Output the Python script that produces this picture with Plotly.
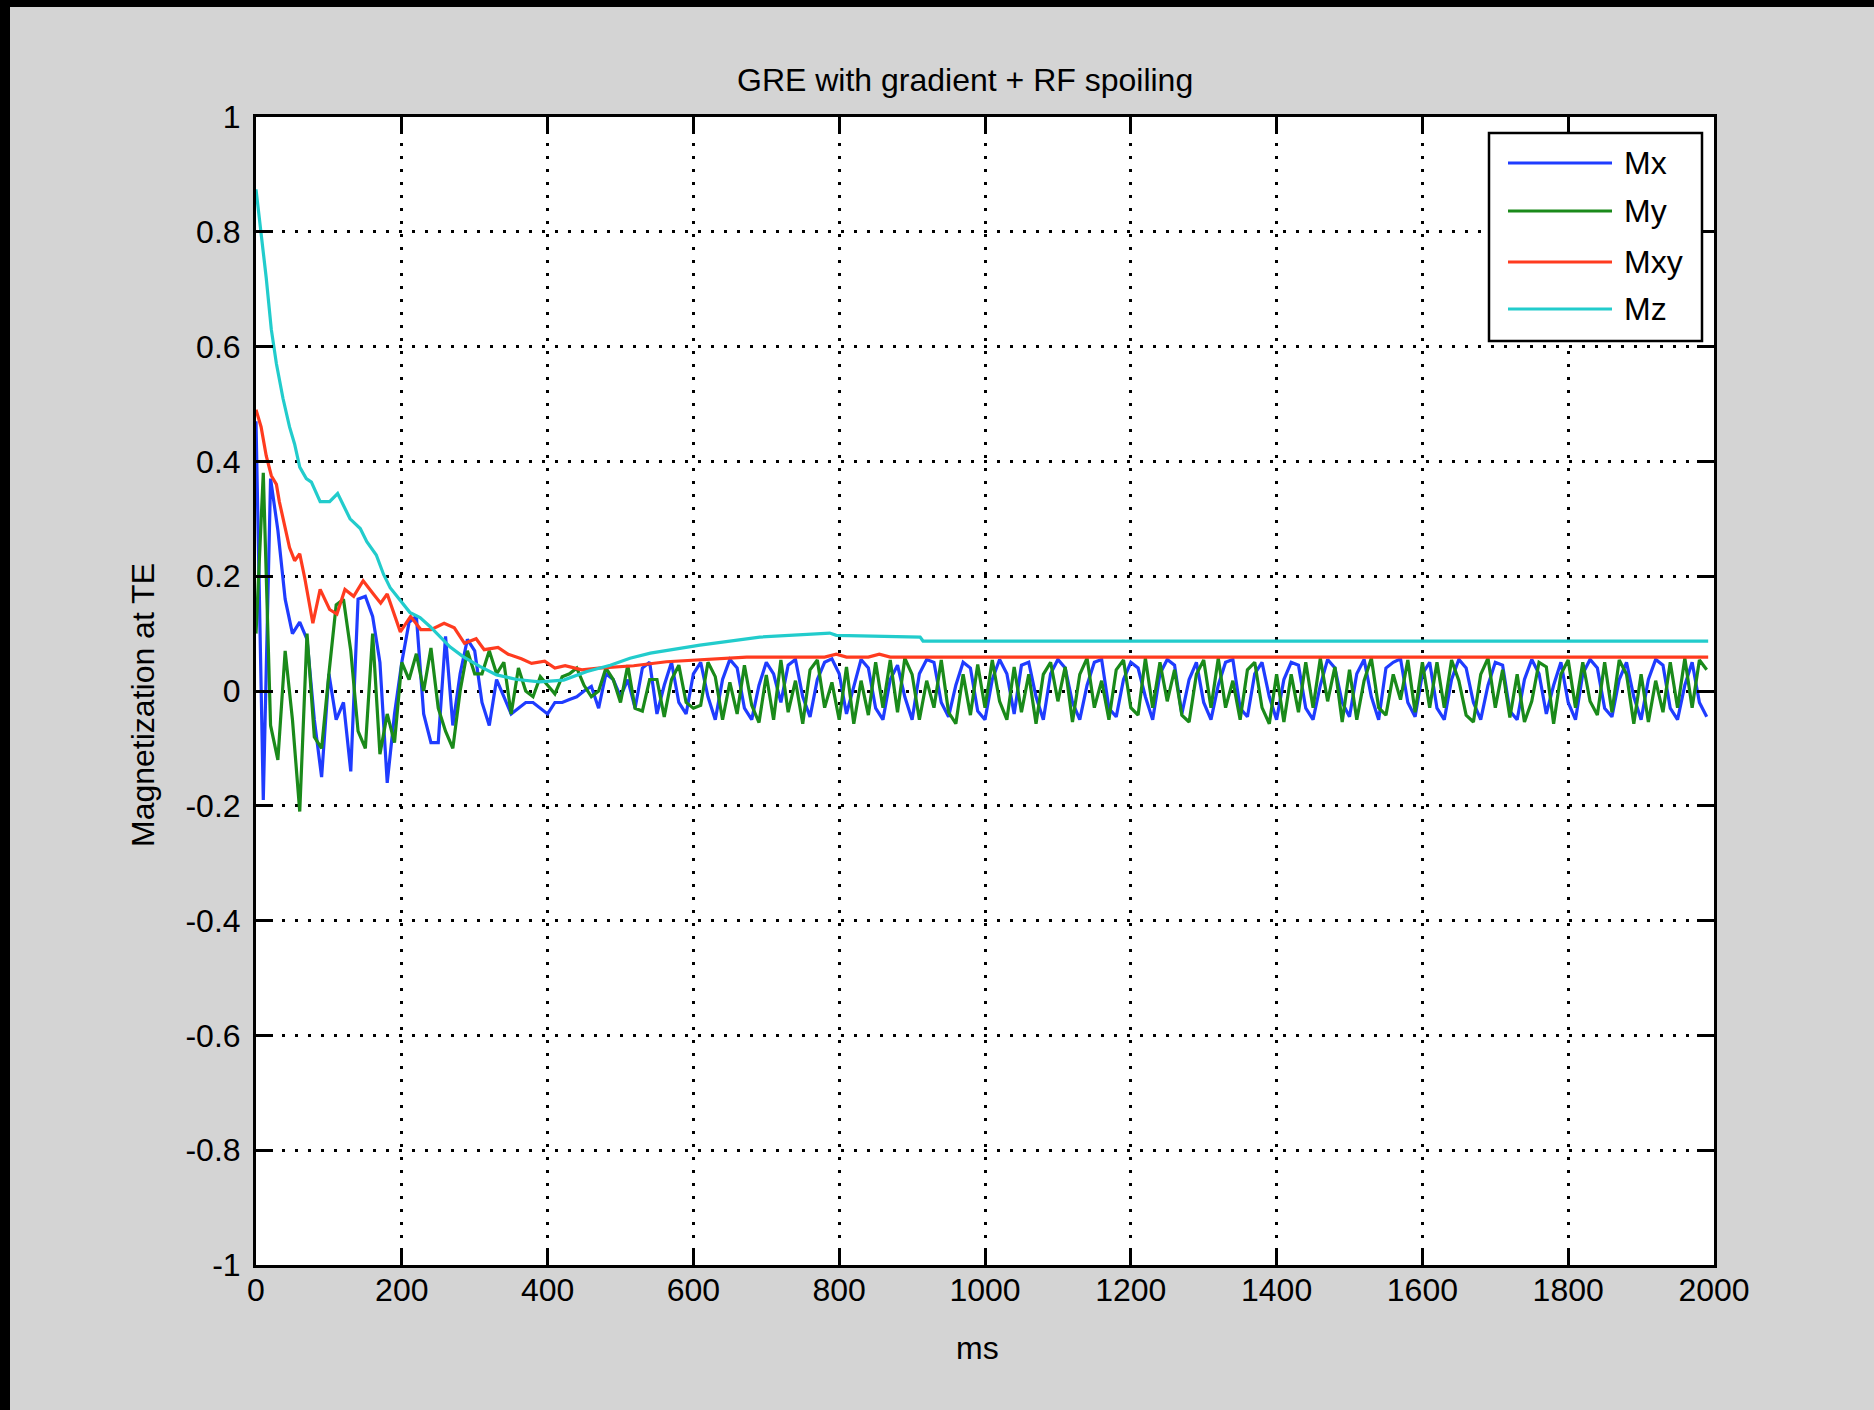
import plotly.graph_objects as go

# ---- data ----
t_ms = list(range(0, 1991, 10))  # sample times for Mx / My

mx = [
    0.47, -0.19, 0.37, 0.28, 0.16, 0.10, 0.12, 0.09, -0.05, -0.15,   # 0-90 ms
    0.03, -0.05, -0.02, -0.14, 0.16, 0.165, 0.13, 0.05, -0.16, -0.04,  # 100-190
    0.05, 0.12, 0.13, -0.04, -0.09, -0.09, 0.095, -0.06, 0.03, 0.09,  # 200-290
    0.07, -0.02, -0.06, 0.02, -0.01, -0.04, -0.03, -0.02, -0.02, -0.03,  # 300-390
    -0.04, -0.02, -0.02, -0.015, -0.01, 0.0, 0.008, -0.03, 0.03, 0.02,  # 400-490
    -0.01,  # 500
    0.02, -0.03, 0.04, 0.05, -0.04, 0.01, 0.05, -0.02, -0.04, 0.03,  # 510-600
    0.05, -0.01, -0.05, 0.02, 0.055, 0.04, -0.03, -0.05, 0.01, 0.05,
    0.03, -0.02, 0.045, 0.055, -0.01, -0.045, 0.02, 0.05, 0.056, 0.03,
    -0.04, 0.01, 0.055, 0.04, -0.03, -0.05, 0.02, 0.045, -0.01, -0.05,
    0.03, 0.055, 0.05, -0.02, -0.045, 0.01, 0.05, 0.04, -0.035, -0.05,  # 910-1000
    0.02, 0.055, 0.03, -0.04, 0.045, 0.05, -0.01, -0.05, 0.03, 0.055,
    0.04, -0.02, -0.05, 0.01, 0.05, 0.055, -0.03, -0.045, 0.02, 0.05,
    0.04, -0.01, -0.05, 0.03, 0.055, 0.045, -0.04, 0.02, 0.05, -0.02,
    -0.05, 0.01, 0.05, 0.055, -0.03, -0.045, 0.03, 0.05, -0.01, -0.05,
    0.02, 0.05, 0.045, -0.03, -0.05, 0.01, 0.055, 0.04, -0.02, -0.045,  # 1410-1500
    0.03, 0.055, -0.01, -0.05, 0.04, 0.05, 0.056, -0.02, -0.045, 0.03,
    0.05, -0.03, -0.05, 0.02, 0.055, 0.04, -0.02, -0.05, 0.01, 0.05,
    0.045, -0.035, -0.05, 0.02, 0.055, 0.03, -0.04, 0.01, 0.05, -0.02,
    -0.05, 0.03, 0.055, 0.04, -0.03, -0.045, 0.02, 0.05, -0.01, -0.05,
    0.02, 0.055, 0.045, -0.03, -0.05, 0.01, 0.05, -0.02, -0.045,  # 1910-1990
]

my = [
    0.10, 0.38, -0.06, -0.12, 0.07, -0.05, -0.21, 0.10, -0.08, -0.10,  # 0-90 ms
    0.03, 0.15, 0.16, 0.07, -0.07, -0.10, 0.10, -0.11, -0.04, -0.09,  # 100-190
    0.05, 0.02, 0.065, 0.0, 0.075, -0.03, -0.07, -0.10, 0.0, 0.07,  # 200-290
    0.03, 0.03, 0.07, 0.03, 0.05, -0.04, 0.04, 0.0, -0.01, 0.025,  # 300-390
    0.01, -0.005, 0.025, 0.03, 0.04, 0.01, -0.01, 0.0, 0.04, 0.02,  # 400-490
    -0.02,  # 500
    0.045, -0.03, -0.035, 0.02, 0.02, -0.045, 0.02, 0.045, -0.02, -0.03,  # 510-600
    -0.025, 0.05, 0.025, -0.05, 0.015, -0.04, 0.045, -0.025, -0.055, 0.028,
    -0.05, 0.054, -0.037, 0.018, -0.057, 0.037, 0.054, -0.029, 0.015, -0.05,
    0.042, -0.057, 0.018, -0.042, 0.05, -0.029, 0.054, -0.037, 0.057, 0.029,
    -0.05, 0.018, -0.029, 0.054, -0.037, -0.057, 0.029, -0.042, 0.046, -0.029,  # 910-1000
    0.054, -0.018, -0.05, 0.042, -0.037, 0.029, -0.057, 0.029, 0.05, -0.018,
    0.042, -0.054, 0.029, 0.057, -0.029, 0.018, -0.05, 0.037, 0.054, -0.029,
    -0.042, 0.057, -0.029, 0.05, -0.018, 0.037, -0.042, -0.054, 0.029, 0.054,
    -0.029, 0.057, -0.029, 0.018, -0.05, 0.037, 0.05, -0.029, -0.057, 0.029,
    -0.054, 0.029, -0.037, 0.05, -0.029, 0.057, -0.018, 0.042, -0.054, 0.037,  # 1410-1500
    -0.05, 0.018, 0.057, -0.029, -0.042, 0.029, -0.015, 0.054, -0.037, 0.05,
    -0.029, 0.05, -0.029, 0.054, 0.018, -0.042, -0.054, 0.029, 0.057, -0.029,
    0.037, -0.046, 0.029, -0.054, -0.018, 0.05, 0.042, -0.057, 0.029, 0.054,
    -0.029, 0.05, -0.018, -0.042, 0.05, -0.037, 0.054, 0.029, -0.057, 0.029,
    -0.054, 0.018, -0.037, 0.05, -0.029, 0.057, -0.029, 0.054, 0.037,  # 1910-1990
]

t_mxy = [0, 7, 14, 21, 28, 32, 39, 46, 53, 60, 67, 74, 78, 88, 101, 111, 122, 134,
         147, 161, 171, 180, 189, 198, 212, 226, 240, 258, 272, 286, 302, 313, 332,
         346, 364, 378, 396, 410, 424, 447, 470, 518, 563, 610, 673, 780, 796, 810,
         840, 855, 870, 1992]
mxy = [0.49, 0.46, 0.41, 0.375, 0.36, 0.33, 0.29, 0.25, 0.227, 0.239, 0.196, 0.15,
       0.118, 0.177, 0.142, 0.134, 0.177, 0.165, 0.192, 0.169, 0.153, 0.169, 0.134,
       0.103, 0.130, 0.107, 0.107, 0.118, 0.11, 0.083, 0.091, 0.072, 0.076, 0.064,
       0.056, 0.048, 0.052, 0.040, 0.044, 0.037, 0.040, 0.044, 0.051, 0.055, 0.059,
       0.059, 0.064, 0.059, 0.059, 0.064, 0.059, 0.059]

t_mz = [0, 7, 14, 21, 28, 37, 46, 53, 60, 69, 76, 88, 101, 112, 129, 143, 152, 165,
        175, 184, 198, 211, 225, 239, 266, 284, 307, 330, 358, 389, 422, 454, 486,
        513, 541, 609, 691, 787, 796, 911, 915, 1992]
mz = [0.874, 0.80, 0.72, 0.63, 0.57, 0.51, 0.46, 0.43, 0.39, 0.37, 0.364, 0.33,
      0.33, 0.344, 0.30, 0.283, 0.26, 0.237, 0.203, 0.18, 0.157, 0.137, 0.128,
      0.112, 0.077, 0.06, 0.043, 0.028, 0.02, 0.016, 0.019, 0.034, 0.045, 0.057,
      0.066, 0.080, 0.094, 0.101, 0.097, 0.094, 0.087, 0.087]

names = ["Mx", "My", "Mxy", "Mz"]
colors = ["#1f3cff", "#1a8a1a", "#ff3b1f", "#22cccc"]

x_ticks = list(range(0, 2001, 200))
y_ticks = [-1, -0.8, -0.6, -0.4, -0.2, 0, 0.2, 0.4, 0.6, 0.8, 1]
y_ticktext = ["-1", "-0.8", "-0.6", "-0.4", "-0.2", "0", "0.2", "0.4", "0.6", "0.8", "1"]

# ---- geometry (page pixels) ----
W, H = 1874, 1410
L, R, T, B = 256, 160, 117, 145
PW, PH = W - L - R, H - T - B


def px(x):
    return (x - L) / PW


def py(y):
    return (H - B - y) / PH


FONT = "Liberation Sans, Arial, Helvetica, sans-serif"
FS = 32
LW = 3.2

fig = go.Figure()
series = [(t_ms, mx), (t_ms, my), (t_mxy, mxy), (t_mz, mz)]
for (xs, ys), name, c in zip(series, names, colors):
    fig.add_trace(go.Scatter(x=xs, y=ys, mode="lines", name=name,
                             line=dict(color=c, width=LW), showlegend=False))

axis_common = dict(
    showline=True, linecolor="black", linewidth=3, mirror="ticks",
    ticks="inside", ticklen=17, tickwidth=2.5, tickcolor="black",
    showgrid=True, gridcolor="black", gridwidth=2.5, griddash="3px,10px",
    zeroline=False, tickfont=dict(family=FONT, size=FS, color="black"),
)

fig.update_xaxes(range=[0, 2000], tickvals=x_ticks, ticklabelstandoff=-5, **axis_common)
fig.update_yaxes(range=[-1, 1], tickvals=y_ticks, ticktext=y_ticktext,
                 ticklabelstandoff=6, **axis_common)

annotations = [
    dict(text="GRE with gradient + RF spoiling", x=px(965), y=py(80)),
    dict(text="ms", x=px(977), y=py(1348)),
    dict(text="Magnetization at TE", x=px(143), y=py(705), textangle=-90),
]
for a in annotations:
    a.update(xref="paper", yref="paper", showarrow=False, xanchor="center",
             yanchor="middle", font=dict(family=FONT, size=FS, color="black"))

# dark screenshot edges (top and left)
shapes = [
    dict(type="rect", xref="paper", yref="paper", x0=px(0), x1=px(W), y0=py(7), y1=py(0),
         fillcolor="black", line=dict(width=0), layer="below"),
    dict(type="rect", xref="paper", yref="paper", x0=px(0), x1=px(10), y0=py(H), y1=py(0),
         fillcolor="black", line=dict(width=0), layer="below"),
]

# legend box drawn by hand so the sample lines match the long MATLAB ones
shapes.append(dict(type="rect", xref="paper", yref="paper", x0=px(1489), x1=px(1702),
                   y0=py(341), y1=py(133), fillcolor="white",
                   line=dict(color="black", width=2.5), layer="above"))
rows = [163, 211, 262, 309]
for name, c, ry in zip(names, colors, rows):
    shapes.append(dict(type="line", xref="paper", yref="paper", x0=px(1508), x1=px(1612),
                       y0=py(ry), y1=py(ry), line=dict(color=c, width=LW), layer="above"))
    annotations.append(dict(text=name, xref="paper", yref="paper", x=px(1622), y=py(ry),
                            xanchor="left", yanchor="middle", showarrow=False,
                            font=dict(family=FONT, size=FS, color="black")))

fig.update_layout(
    width=W, height=H,
    margin=dict(l=L, r=R, t=T, b=B, pad=0),
    paper_bgcolor="#d4d4d4", plot_bgcolor="white",
    annotations=annotations, shapes=shapes, showlegend=False,
)

post = ("document.documentElement.style.overflow='hidden';"
        "document.documentElement.style.background='#d4d4d4';"
        "document.body.style.margin='0';"
        "document.body.style.background='#d4d4d4';"
        "document.body.style.overflow='hidden';")
fig.write_html("out.html", config={"displayModeBar": False}, post_script=post)
